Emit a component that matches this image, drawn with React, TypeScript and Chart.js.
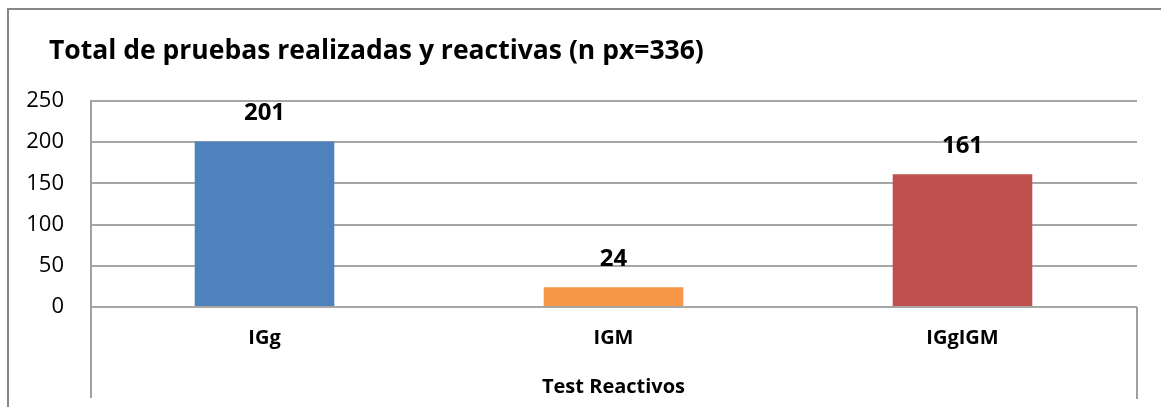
import React, { useEffect, useRef } from "react";
import { Chart, registerables } from "chart.js";

Chart.register(...registerables);

const TITLE = "Total de pruebas realizadas y reactivas (n px=336)";
const X_TITLE = "Test Reactivos";
const categories = ["IGg", "IGM", "IGgIGM"];
const values = [201, 24, 161];
const barColors = ["#4F81BD", "#F79646", "#C0504D"];
const Y_MIN = 0;
const Y_MAX = 250;
const Y_STEP = 50;

const FONT = "'Open Sans', 'DejaVu Sans', sans-serif";
const W = 1161;
const H = 407;

const decorPlugin = {
  id: "decor",
  beforeDraw(chart: any) {
    const ctx = chart.ctx;
    ctx.save();
    ctx.fillStyle = "#ffffff";
    ctx.fillRect(0, 0, W, H);
    // outer frame (left + top)
    ctx.fillStyle = "#868686";
    ctx.fillRect(7, 8, 2, H - 8);
    ctx.fillRect(7, 8, W - 7, 2);
    ctx.restore();
  },
  afterDraw(chart: any) {
    const ctx = chart.ctx;
    const a = chart.chartArea;
    ctx.save();
    ctx.fillStyle = "#a0a0a0";
    // left axis line extending into the category box
    ctx.fillRect(a.left, a.top, 2, 398 - a.top);
    // right side of the category box
    ctx.fillRect(a.right - 1, a.bottom, 2, 399 - a.bottom);
    // title
    ctx.fillStyle = "#000000";
    ctx.font = `bold 26.5px ${FONT}`;
    ctx.textAlign = "left";
    ctx.textBaseline = "alphabetic";
    ctx.fillText(TITLE, 49, 59);
    // data labels
    const meta = chart.getDatasetMeta(0);
    ctx.font = `bold 24px ${FONT}`;
    ctx.textAlign = "center";
    ctx.textBaseline = "middle";
    meta.data.forEach((bar: any, i: number) => {
      ctx.fillText(String(values[i]), bar.x, bar.y - 28);
    });
    ctx.restore();
  },
};

export default function App() {
  const ref = useRef<HTMLCanvasElement>(null);
  useEffect(() => {
    if (!ref.current) return;
    const chart = new Chart(ref.current, {
      type: "bar",
      data: {
        labels: categories,
        datasets: [
          {
            data: values,
            backgroundColor: barColors,
            borderWidth: 0,
            barPercentage: 0.4,
            categoryPercentage: 1,
          },
        ],
      },
      options: {
        animation: false,
        responsive: false,
        devicePixelRatio: 1,
        layout: { padding: { top: 101, right: 24, bottom: 0, left: 0 } },
        plugins: {
          legend: { display: false },
          title: { display: false },
          tooltip: { enabled: false },
        },
        scales: {
          x: {
            grid: { display: false, drawTicks: false },
            border: { display: false },
            ticks: {
              color: "#000000",
              font: { family: FONT, size: 20, weight: "bold" },
              padding: 19,
            },
            title: {
              display: true,
              text: X_TITLE,
              color: "#000000",
              font: { family: FONT, size: 20, weight: "bold" },
              padding: { top: 0, bottom: 8 },
            },
            afterFit(scale: any) {
              scale.height = 100;
            },
          },
          y: {
            min: Y_MIN,
            max: Y_MAX,
            ticks: {
              stepSize: Y_STEP,
              color: "#000000",
              font: { family: FONT, size: 22 },
              padding: 26,
            },
            grid: { color: "#a6a6a6", lineWidth: 2, drawTicks: false },
            border: { display: false },
            afterFit(scale: any) {
              scale.width = 90;
            },
          },
        },
      },
      plugins: [decorPlugin],
    });
    return () => chart.destroy();
  }, []);
  return (
    <div style={{ position: "fixed", left: 0, top: 0, width: W, height: H }}>
      <canvas ref={ref} width={W} height={H} style={{ width: W, height: H }} />
    </div>
  );
}
